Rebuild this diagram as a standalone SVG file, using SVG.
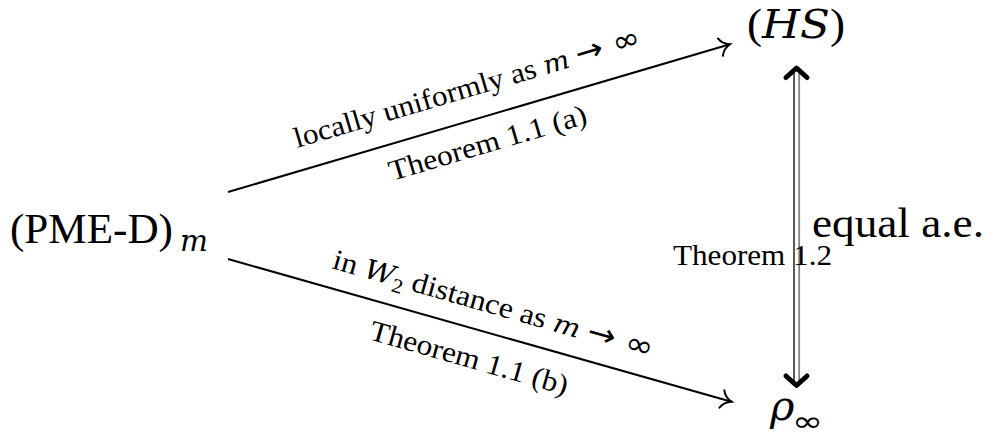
<svg xmlns="http://www.w3.org/2000/svg" width="986" height="438" viewBox="0 0 986 438">
  <style>
    .t { font-family: "Liberation Serif", "Times New Roman", serif; fill: #000; }
    .big { font-size: 41.5px; }
    .lbl { font-size: 29px; }
    .it { font-family: "DejaVu Serif", "Liberation Serif", serif; font-style: italic; }
    .sym { font-family: "DejaVu Sans", "Liberation Serif", sans-serif; }
    .edge { stroke: #000; stroke-width: 2; fill: none; }
    .head { stroke: #000; stroke-width: 5; fill: none; stroke-linecap: round; stroke-linejoin: round; }
  </style>
  <defs>
    <marker id="to" markerUnits="userSpaceOnUse" viewBox="-12 -11 14 22" refX="0" refY="0" markerWidth="14" markerHeight="22" orient="auto" overflow="visible">
      <path d="M -10,-9 C -8,-4 -3,-1 0,0 C -3,1 -8,4 -10,9" fill="none" stroke="#000" stroke-width="2" stroke-linecap="round"/>
    </marker>
  </defs>
  <rect width="986" height="438" fill="#fff"/>

  <g id="node-pmed">
    <text class="t big" x="10" y="243" textLength="163" lengthAdjust="spacingAndGlyphs">(PME-D)</text>
    <text class="t lbl it" x="180" y="251" textLength="28" lengthAdjust="spacingAndGlyphs">m</text>
  </g>

  <g id="node-hs">
    <text class="t big" x="747" y="38" font-size="44" textLength="98" lengthAdjust="spacingAndGlyphs">(<tspan class="it" font-size="40">HS</tspan>)</text>
  </g>

  <g id="node-rho">
    <text class="t big it" x="770" y="420" font-size="38">ρ</text>
    <text class="t sym" x="792" y="431" font-size="28" textLength="31" lengthAdjust="spacingAndGlyphs">∞</text>
  </g>

  <g id="connectors">
    <line class="edge" x1="228" y1="192" x2="730" y2="44.3" marker-end="url(#to)"/>
    <line class="edge" x1="228" y1="259" x2="731.5" y2="401.7" marker-end="url(#to)"/>

    <text class="t lbl" transform="translate(297,148) rotate(-16.45)" textLength="360" lengthAdjust="spacingAndGlyphs">locally uniformly as <tspan class="it" font-size="26">m</tspan> <tspan class="sym" font-size="31">→ ∞</tspan></text>
    <text class="t lbl" transform="translate(392,181) rotate(-16.45)" textLength="205" lengthAdjust="spacingAndGlyphs">Theorem 1.1 (a)</text>

    <text class="t lbl" transform="translate(331,268) rotate(15.87)" textLength="332" lengthAdjust="spacingAndGlyphs">in <tspan class="it" font-size="27">W</tspan><tspan font-size="20" dy="6">2</tspan><tspan dy="-6"> distance as </tspan><tspan class="it" font-size="26">m</tspan> <tspan class="sym" font-size="31">→ ∞</tspan></text>
    <text class="t lbl" transform="translate(368,339) rotate(15.87)" textLength="205" lengthAdjust="spacingAndGlyphs">Theorem 1.1 (b)</text>

    <line x1="794" y1="72" x2="794" y2="381" stroke="#000" stroke-width="1.3"/>
    <line x1="799.2" y1="72" x2="799.2" y2="381" stroke="#808080" stroke-width="1.8"/>
    <polyline class="head" points="786,77.5 796.5,68 807,77.5"/>
    <polyline class="head" points="786,376 796.5,385.5 807,376"/>

    <text class="t lbl" x="673" y="265" textLength="159" lengthAdjust="spacingAndGlyphs">Theorem 1.2</text>
    <text class="t big" x="812" y="237" textLength="172" lengthAdjust="spacingAndGlyphs">equal a.e.</text>
  </g>
</svg>
